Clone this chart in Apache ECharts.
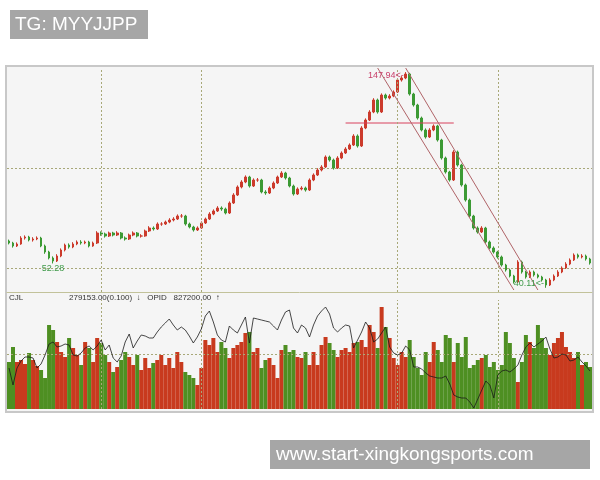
<!DOCTYPE html>
<html><head><meta charset="utf-8">
<script src="https://cdn.jsdelivr.net/npm/echarts@6/dist/echarts.min.js"></script>
<style>html,body{margin:0;padding:0;background:#fff}#c{width:600px;height:480px}</style>
</head><body><div id="c"></div>
<script>
// Daily candles: [open, close, low, high]
const ohlc = [
[63.5,62.5,61.8,64.2],[62.5,61,60.2,63.1],[61,62,60.5,62.8],[62,65,61.6,65.9],[65,65.5,64.2,66.3],
[65.5,64,63.3,66.1],[64,64.5,63.2,65.4],[64.5,65,63.9,65.8],[65,61,60.4,65.6],[61,58,57.1,61.7],
[58,55,54.3,58.6],[55,53.5,52.28,55.8],[53.5,56,53,56.9],[56,59,55.4,59.8],[59,61.5,58.3,62.2],
[61.5,60.5,59.7,62.3],[60.5,62,59.9,62.9],[62,63,61.4,63.8],[63,62.5,61.7,63.9],[62.5,63,61.9,63.7],
[63,61,60.3,63.6],[61,62.5,60.6,63.2],[62.5,67.5,62,68.4],[67.5,67,66.1,68.3],[67,66,65.2,67.7],
[66,67.5,65.5,68.2],[67.5,66.5,65.8,68.1],[66.5,67.5,66,68.4],[67.5,65,64.3,68],[65,64.5,63.7,65.8],
[64.5,66.5,64,67.2],[66.5,67.5,65.9,68.3],[67.5,66,65.3,68],[66,66,65.2,66.9],[66,68.5,65.6,69.2],
[68.5,70,68,70.9],[70,69.5,68.7,70.8],[69.5,72,69,72.8],[72,72,71.1,72.9],[72,73,71.5,73.7],
[73,74,72.4,74.9],[74,74.5,73.3,75.4],[74.5,76,74,76.8],[76,76,75.1,77],[76,72,71.2,76.6],
[72,70.5,69.8,72.7],[70.5,69,68.2,71.1],[69,70,68.5,70.8],[70,72.5,69.6,73.3],[72.5,74.5,72,75.2],
[74.5,77,74,77.9],[77,78.5,76.4,79.3],[78.5,80,78,80.9],[80,79.5,78.6,80.8],[79.5,77.5,76.8,80.2],
[77.5,82.5,77,83.3],[82.5,86.5,82,87.4],[86.5,90.5,86,91.3],[90.5,93,89.8,93.9],[93,95.5,92.4,96.3],
[95.5,91,90.2,96.1],[91,94,90.5,94.8],[94,94,93.1,95],[94,88,87.3,94.6],[88,87.5,86.6,88.9],
[87.5,90,87,90.8],[90,92.5,89.4,93.3],[92.5,95.5,92,96.2],[95.5,97.5,95,98.4],[97.5,95,94.2,98.1],
[95,91,90.3,95.6],[91,87,86.2,91.7],[87,89.5,86.5,90.3],[89.5,90,88.8,90.9],[90,89,88.2,90.7],
[89,94,88.5,94.8],[94,96.5,93.4,97.3],[96.5,99,96,99.9],[99,100.5,98.3,101.4],[100.5,105.5,100,106.3],
[105.5,104,103.2,106.2],[104,100,99.2,104.7],[100,105,99.5,105.9],[105,107.5,104.4,108.3],[107.5,109.5,107,110.4],
[109.5,111.5,109,112.3],[111.5,116,111,116.9],[116,111,110.2,116.8],[111,120,110.5,120.9],[120,124,119.4,124.8],
[124,128,123.5,128.9],[128,134,127.4,134.9],[134,128,127.2,134.7],[128,136.5,127.5,137.3],[136.5,135,134.2,137.2],
[135,136,134.3,136.9],[136,138,135.4,138.8],[138,144,137.5,144.8],[144,145,143.2,145.9],[145,147,144.4,147.94],
[147,137,136.2,147.6],[137,131.5,130.7,137.6],[131.5,125,124.2,132.1],[125,119,118.3,125.7],[119,115.5,114.7,119.8],
[115.5,119,115,119.9],[119,121,118.4,121.8],[121,114,113.2,121.6],[114,105,104.2,114.6],[105,98,97.2,105.7],
[98,94,93.2,98.6],[94,108,93.5,108.9],[108,101.5,100.7,108.7],[101.5,91.5,90.7,102.1],[91.5,84,83.2,92.2],
[84,76,75.2,84.7],[76,70,69.2,76.6],[70,68,67.2,70.8],[68,70,67.5,70.9],[70,63,62.2,70.6],
[63,60,59.3,63.7],[60,58,57.2,60.8],[58,55.5,54.7,58.6],[55.5,51.5,50.7,56.2],[51.5,49,48.2,52.1],
[49,46,45.3,49.7],[46,43,42.2,46.6],[43,53,42.5,53.9],[53,48,47.2,53.7],[48,45.5,44.7,48.6],
[45.5,48,45,48.8],[48,46.5,45.7,48.7],[46.5,45.5,44.8,47.2],[45.5,44,43.2,46.1],[44,41.5,40.11,44.6],
[41.5,44,41,44.9],[44,46,43.4,46.8],[46,48,45.5,48.9],[48,50,47.4,50.8],[50,52,49.5,52.9],
[52,54,51.4,54.8],[54,56.5,53.5,57.3],[56.5,55.5,54.7,57.2],[55.5,56,54.8,56.9],[56,54.5,53.7,56.7],
[54.5,52.5,51.7,55.1]
];
// Volume (thousands)
const volume = [
141,186,141,147,135,168,147,129,117,93,252,237,201,171,156,213,183,162,132,201,
183,141,213,198,162,141,111,126,147,171,156,132,162,117,153,123,138,147,162,132,
153,123,171,141,111,102,93,72,123,207,192,213,171,201,183,153,183,192,201,228,
231,171,183,123,147,153,132,93,177,192,171,177,156,153,171,132,171,132,192,216,
198,177,156,177,183,171,198,201,207,186,252,231,183,306,246,213,153,132,171,156,
207,156,123,102,171,141,201,177,141,222,213,141,198,156,216,123,132,147,153,162,
126,141,117,132,231,198,153,81,141,222,201,183,252,213,183,162,198,213,231,186,
171,153,171,132,141,126
];
// OPID indicator line (same scale as volume)
const opid = [
123,72,123,144,156,156,153,123,135,162,195,201,186,189,195,192,162,159,168,183,
189,177,189,207,177,192,153,141,159,201,225,183,204,222,219,213,213,231,246,258,
270,252,237,246,237,219,198,216,240,279,294,261,222,207,201,249,237,228,252,276,
198,273,270,267,264,261,249,237,267,291,297,243,228,252,243,216,252,279,294,306,
285,243,231,243,252,249,183,207,231,261,243,201,210,228,246,186,168,162,168,189,
177,126,126,120,108,99,96,93,93,99,75,42,36,33,33,21,3,30,57,84,
72,33,102,114,117,111,120,132,162,186,198,186,195,204,216,180,153,156,165,162,
144,147,156,141,129,114
];
const days = ohlc.map((_, i) => String(i));
const priceGridLines = [50, 100];
const volumeGridLines = [165];
const dateMarks = [23, 48, 97, 122];
const supportLine = [[84, 122.5], [111, 122.5]];
const channelLower = [[92, 150], [126, 39]];
const channelUpper = [[99, 150], [132, 39]];
const extremeLabels = [
  { idx: 99, value: 147.94, text: '147.94<-', pos: 'left', color: '#c8406a', off: [-1, 3] },
  { idx: 11, value: 52.28, text: '52.28', pos: 'bottom', color: '#3f9a4a', off: [0, 0] },
  { idx: 134, value: 40.11, text: '40.11<-', pos: 'left', color: '#3f9a4a', off: [-1, -4] }
];

const UP = '#cc3b2c', DOWN = '#3c9a34';
const VUP = '#c83a1e', VDOWN = '#4e8f22';
const gridDash = { color: '#a8a878', type: [2, 2], width: 1 };
const channelStyle = { color: '#b06468', width: 1, type: 'solid' };

const chart = echarts.init(document.getElementById('c'), null, { renderer: 'canvas' });
const option = {
  animation: false,
  backgroundColor: '#ffffff',
  graphic: [
    { type: 'rect', z: -10, shape: { x: 6, y: 66, width: 587, height: 346 },
      style: { fill: '#f5f5f5', stroke: '#c8c8c8', lineWidth: 2 } },
    { type: 'rect', shape: { x: 10, y: 10, width: 138, height: 29 }, style: { fill: '#a6a6a6' } },
    { type: 'text', x: 15, y: 25, style: { text: 'TG: MYYJJPP', fill: '#ffffff',
      font: '19px "Liberation Sans", Arial, sans-serif', verticalAlign: 'middle' } },
    { type: 'rect', shape: { x: 270, y: 440, width: 320, height: 29 }, style: { fill: '#a6a6a6' } },
    { type: 'text', x: 276, y: 455, style: { text: 'www.start-xingkongsports.com', fill: '#ffffff',
      font: '19px "Liberation Sans", Arial, sans-serif', verticalAlign: 'middle' } },
    { type: 'text', x: 9, y: 298, style: { text: 'CJL', fill: '#333', font: '8px "Liberation Sans", sans-serif', verticalAlign: 'middle' } },
    { type: 'text', x: 69, y: 298, style: { text: '279153.00(0.100)  ↓   OPID   827200.00  ↑', fill: '#333', font: '8px "Liberation Sans", sans-serif', verticalAlign: 'middle' } }
  ],
  grid: [
    { left: 7, right: 8, top: 68, height: 224 },
    { left: 7, right: 8, top: 300, height: 109 }
  ],
  xAxis: [
    { type: 'category', gridIndex: 0, data: days, boundaryGap: true,
      axisLine: { show: true, lineStyle: { color: '#c2c29a', width: 1 } },
      axisTick: { show: false }, axisLabel: { show: false }, splitLine: { show: false } },
    { type: 'category', gridIndex: 1, data: days, boundaryGap: true,
      axisLine: { show: false }, axisTick: { show: false }, axisLabel: { show: false }, splitLine: { show: false } }
  ],
  yAxis: [
    { type: 'value', gridIndex: 0, min: 38, max: 150, show: false, splitLine: { show: false } },
    { type: 'value', gridIndex: 1, min: 0, max: 327, show: false, splitLine: { show: false } }
  ],
  series: [
    {
      type: 'candlestick', xAxisIndex: 0, yAxisIndex: 0, data: ohlc, barWidth: '55%',
      itemStyle: { color: UP, color0: DOWN, borderColor: UP, borderColor0: DOWN, borderWidth: 1 },
      markLine: {
        silent: true, symbol: ['none', 'none'], label: { show: false }, animation: false,
        data: [
          ...priceGridLines.map(v => ({ yAxis: v, lineStyle: gridDash })),
          ...dateMarks.map(i => ({ xAxis: i, lineStyle: gridDash })),
          [{ coord: channelLower[0], lineStyle: channelStyle }, { coord: channelLower[1] }],
          [{ coord: channelUpper[0], lineStyle: channelStyle }, { coord: channelUpper[1] }]
        ]
      },
      markPoint: {
        silent: true, symbol: 'circle', symbolSize: 0, itemStyle: { color: 'rgba(0,0,0,0)' }, animation: false,
        data: extremeLabels.map(e => ({
          coord: [e.idx, e.value],
          label: { show: true, formatter: e.text, position: e.pos, distance: 1, offset: e.off,
            color: e.color, fontSize: 9, fontFamily: '"Liberation Sans", sans-serif' }
        }))
      }
    },
    {
      // support line drawn as its own series so its colour is not overridden
      type: 'line', xAxisIndex: 0, yAxisIndex: 0, data: supportLine, symbol: 'none', z: 4,
      lineStyle: { color: '#d8405c', width: 1 }, itemStyle: { color: '#d8405c' }
    },
    {
      type: 'bar', xAxisIndex: 1, yAxisIndex: 1, data: volume, barCategoryGap: '0%',
      itemStyle: { color: p => (ohlc[p.dataIndex][1] >= ohlc[p.dataIndex][0] ? VUP : VDOWN) },
      markLine: {
        silent: true, symbol: ['none', 'none'], label: { show: false }, animation: false,
        data: [
          ...volumeGridLines.map(v => ({ yAxis: v, lineStyle: gridDash })),
          ...dateMarks.map(i => ({ xAxis: i, lineStyle: gridDash }))
        ]
      }
    },
    {
      type: 'line', xAxisIndex: 1, yAxisIndex: 1, data: opid, symbol: 'none', z: 5,
      lineStyle: { color: '#1a1a1a', width: 0.8 }
    }
  ]
};
chart.setOption(option);
</script>
</body></html>
